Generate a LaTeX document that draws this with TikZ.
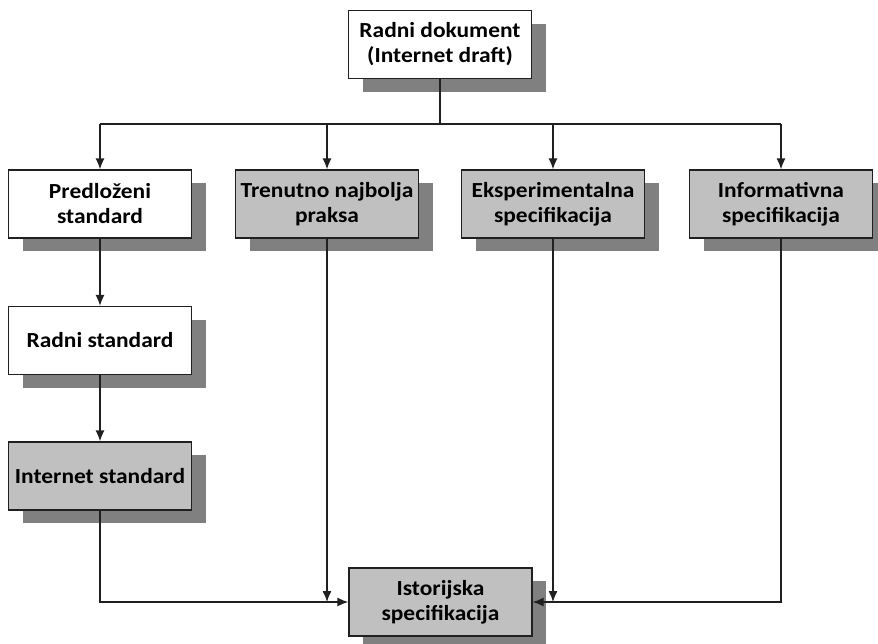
\documentclass[tikz,border=0pt]{standalone}
\usepackage{fontspec}
\setmainfont{Carlito}[FakeStretch=1.09]
\usetikzlibrary{arrows.meta,shadows}
\definecolor{boxgray}{HTML}{C0C0C0}
\definecolor{shadowgray}{HTML}{808080}
\definecolor{inkgray}{HTML}{202020}
\tikzset{
  x=1pt,y=-1pt,
  card/.style={draw=inkgray, line width=1.3pt, minimum width=183pt, minimum height=68pt,
    align=center, font=\fontsize{21.5}{25}\selectfont\bfseries, inner sep=0pt,
    drop shadow={shadow xshift=14pt, shadow yshift=-13pt, fill=shadowgray, opacity=1}},
  plain/.style={card, fill=white},
  shaded/.style={card, fill=boxgray},
  link/.style={draw=inkgray, line width=1.3pt, -{Latex[length=11pt,width=9pt]}},
  wire/.style={draw=inkgray, line width=1.3pt}
}
\begin{document}
\begin{tikzpicture}
\useasboundingbox (0,0) rectangle (878,643);
% top node
\node[plain] (draft) at (440,44.5) {Radni dokument\\(Internet draft)};
% first row
\node[plain]  (pred) at (100,204) {Predloženi\\standard};
\node[shaded] (bcp)  at (327,204) {Trenutno najbolja\\praksa};
\node[shaded] (exp)  at (553,204) {Eksperimentalna\\specifikacija};
\node[shaded] (info) at (781,204) {Informativna\\specifikacija};
% standards track
\node[plain]  (draftstd) at (100,340.5) {Radni standard};
\node[shaded] (inet)     at (100,476)   {Internet standard};
% history
\node[shaded] (hist) at (440.5,602) {Istorijska\\specifikacija};

% distribution bus
\coordinate (bus) at (440,124);
\draw[wire] (draft.south) -- (bus);
\draw[wire] (pred.north |- bus) -- (info.north |- bus);
\foreach \n in {pred,bcp,exp,info}
  \draw[link] (\n.north |- bus) -- (\n.north);

% standards track
\draw[link] (pred) -- (draftstd);
\draw[link] (draftstd) -- (inet);

% into history
\draw[link] (inet.south) |- (hist.west);
\draw[link] (bcp.south) -- (bcp.south |- hist.west);
\draw[link] (exp.south) -- (exp.south |- hist.east);
\draw[link] (info.south) |- (hist.east);
\end{tikzpicture}
\end{document}
